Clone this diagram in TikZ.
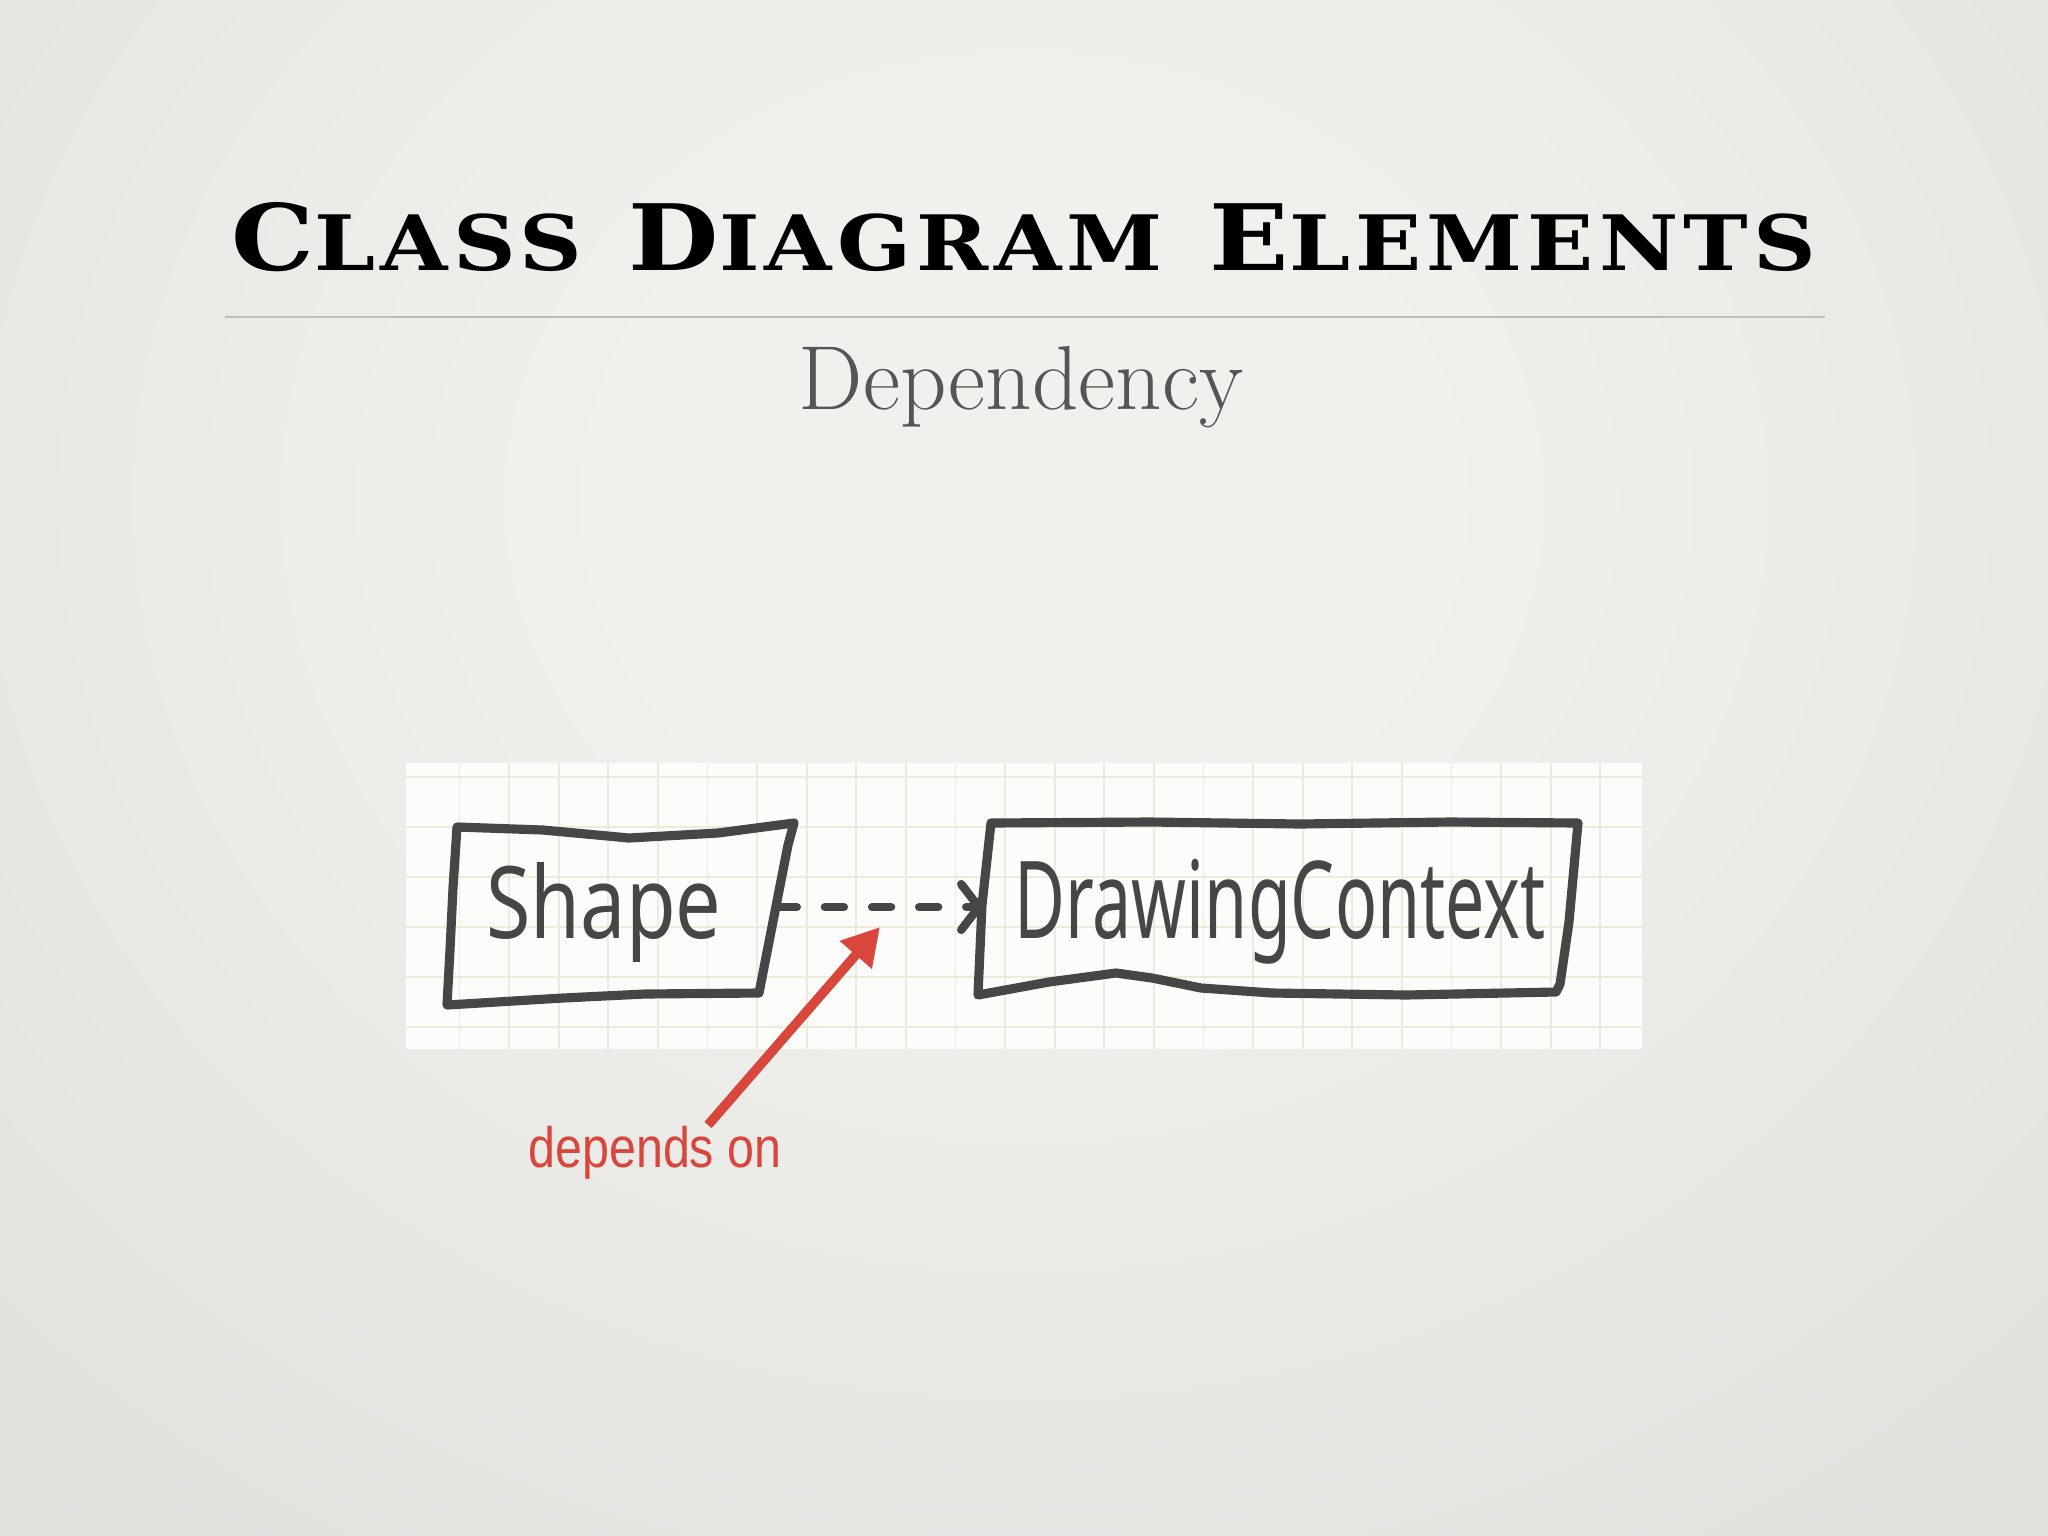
\documentclass[tikz,border=0pt]{standalone}
\usepackage{fontspec}
\usepackage{graphicx}
\usetikzlibrary{arrows.meta}
\newfontfamily\titlefont{DejaVu Serif}[LetterSpace=6.0]
\newfontfamily\handfont{Noto Sans}
\newfontfamily\labelfont{Liberation Sans}
\definecolor{bgin}{HTML}{F0F0ED}
\definecolor{bgout}{HTML}{D6D6D0}
\definecolor{marker}{HTML}{464646}
\definecolor{gridc}{HTML}{EEEBDA}
\definecolor{paperc}{HTML}{FCFCFA}
\definecolor{redc}{HTML}{D8463C}
\definecolor{subc}{HTML}{555555}
\definecolor{rulec}{HTML}{BDBDBA}
\pgfdeclareradialshading{vignette}{\pgfpoint{0bp}{0bp}}{color(0bp)=(bgin); color(8bp)=(bgin); color(46bp)=(bgout); color(72bp)=(bgout)}
\tikzset{
  handline/.style={draw=marker, line width=2.6pt, line join=round, line cap=round},
  hand/.style={inner sep=0pt, text=marker, font=\handfont},
  gridline/.style={draw=gridc, line width=0.55pt},
  boxanchor/.style={inner sep=0pt, minimum height=1.68cm},
  depline/.style={draw=marker, line width=2.4pt, line cap=round, dash pattern=on 5.4pt off 8pt,
    -{Straight Barb[length=5pt,width=13pt,line cap=round]}},
  redarrow/.style={draw=redc, line width=2.7pt, -{Triangle[length=0.37cm,width=0.40cm]}}
}
\begin{document}
\begin{tikzpicture}[x=0.01cm,y=-0.01cm]
\useasboundingbox (0,0) rectangle (2048,1536);
\fill[bgout] (0,0) rectangle (2048,1536);
\begin{scope}
  \clip (0,0) rectangle (2048,1536);
  \shade[shading=vignette] (-250,-600) rectangle (2298,1600);
\end{scope}

% title
\node[anchor=base, inner sep=0pt] (title) at (1024,270)
  {\resizebox{15.84cm}{0.68cm}{\titlefont\bfseries\fontsize{30}{30}\selectfont
   C{\fontsize{25}{25}\selectfont LASS}\hspace{0.45em}D{\fontsize{25}{25}\selectfont IAGRAM}\hspace{0.45em}E{\fontsize{25}{25}\selectfont LEMENTS}}};
\draw[rulec, line width=0.6pt] (225,317) -- (1825,317);
\node[anchor=base, inner sep=0pt, text=subc] (sub) at (1021,409)
  {\resizebox{4.44cm}{!}{\fontsize{30}{30}\selectfont Dependency}};

% paper
\fill[paperc] (406,763) rectangle (1642,1049);
\foreach \k in {0,...,23} \draw[gridline] ({459.5+49.6*\k},763) -- ({459.5+49.6*\k},1049);
\foreach \k in {0,...,5} \draw[gridline] (406,{777+50*\k}) -- (1642,{777+50*\k});

% box anchors
\node[boxanchor, minimum width=3.27cm] (shapebox) at (613.5,907) {};
\node[boxanchor, minimum width=5.85cm] (ctxbox) at (1277.5,907) {};

% hand drawn outlines
\draw[handline] (457,827) -- (543,830) -- (629,838) -- (718,833) -- (794,823) -- (788,845)
  -- (759,993) -- (645,994) -- (563,998) -- (447,1005) -- (450,950) -- (453,888) -- cycle;
\draw[handline] (991,823) -- (1150,822) -- (1300,824) -- (1450,822) -- (1578,823) -- (1569,922)
  -- (1560,984) -- (1556,992) -- (1406,995) -- (1272,993) -- (1201,988) -- (1152,978)
  -- (1116,973) -- (1049,982) -- (978,995) -- (982,905) -- cycle;

% texts
\node[hand] (shape) at (604,912) {\resizebox*{2.35cm}{1.0cm}{Shape}};
\node[hand] (ctx) at (1280,912) {\resizebox*{5.31cm}{1.05cm}{DrawingContext}};

% dependency connector
\draw[depline] (shapebox.east) -- (ctxbox.west);

% label
\node[anchor=base, inner sep=0pt, text=redc] (dep) at (655,1167)
  {\scalebox{0.85}[1]{\labelfont\fontsize{16.2}{18}\selectfont depends on}};
\coordinate (deptarget) at (880,927);
\draw[redarrow] ([xshift=0.53cm]dep.north) -- (deptarget);
\end{tikzpicture}
\end{document}
